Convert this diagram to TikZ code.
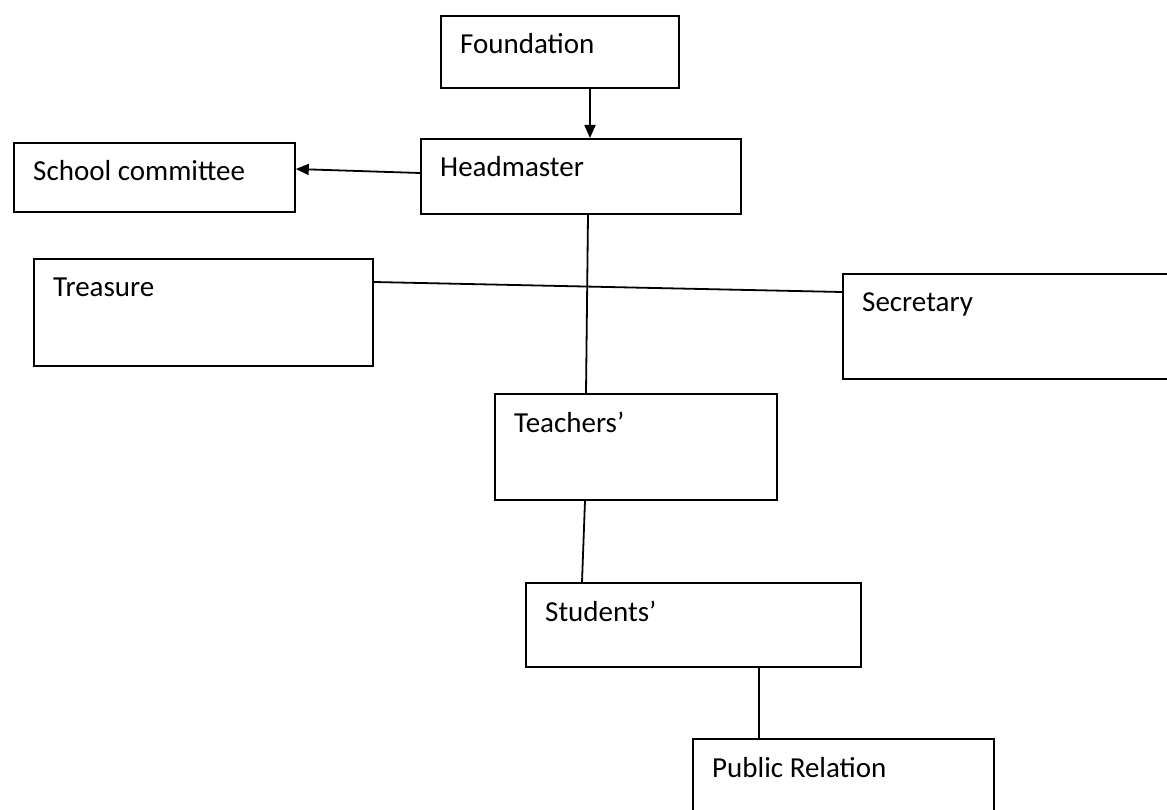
\documentclass[tikz,border=0pt]{standalone}
\usepackage{fontspec}
\setmainfont{Carlito}
\usetikzlibrary{arrows.meta}
\tikzset{
  box/.style={draw=black, line width=1.8pt, rectangle, inner sep=0pt, anchor=north west},
  lbl/.style={anchor=base west, inner sep=0pt, font=\fontsize{29pt}{35pt}\selectfont},
  boxtext/.style={label={[lbl, xshift=20pt, yshift=-39pt]north west:#1}},
  conn/.style={draw=black, line width=1.8pt},
  arr/.style={conn, -{Triangle[length=13pt,width=11pt]}}
}
\begin{document}
\begin{tikzpicture}[x=1pt,y=-1pt]
\fill[white] (0,0) rectangle (1167,810);
\clip (0,0) rectangle (1167,810);
% boxes
\node[box, minimum width=238pt, minimum height=72pt, boxtext={Foundation}] (F) at (440,15) {};
\node[box, minimum width=320pt, minimum height=75pt, boxtext={Headmaster}] (H) at (420,138) {};
\node[box, minimum width=281pt, minimum height=69pt, boxtext={School committee}] (SC) at (13,142) {};
\node[box, minimum width=339pt, minimum height=107pt, boxtext={Treasure}] (T) at (33,258) {};
\node[box, minimum width=340pt, minimum height=105pt, boxtext={Secretary}] (S) at (842,273) {};
\node[box, minimum width=282pt, minimum height=106pt, boxtext={Teachers’}] (Te) at (494,393) {};
\node[box, minimum width=335pt, minimum height=84pt, boxtext={Students’}] (St) at (525,582) {};
\node[box, minimum width=301pt, minimum height=100pt, boxtext={Public Relation}] (PR) at (692,738) {};
% connectors
\draw[arr] ([xshift=150pt]F.south west) -- ([xshift=170pt]H.north west);
\draw[arr] ([yshift=-35pt]H.north west) -- ([yshift=-27pt]SC.north east);
\draw[conn] ([xshift=168pt]H.south west) -- ([xshift=92pt]Te.north west);
\draw[conn] ([yshift=-24pt]T.north east) -- ([yshift=-19pt]S.north west);
\draw[conn] ([xshift=91pt]Te.south west) -- ([xshift=57pt]St.north west);
\draw[conn] ([xshift=234pt]St.south west) -- ([xshift=67pt]PR.north west);
\end{tikzpicture}
\end{document}
